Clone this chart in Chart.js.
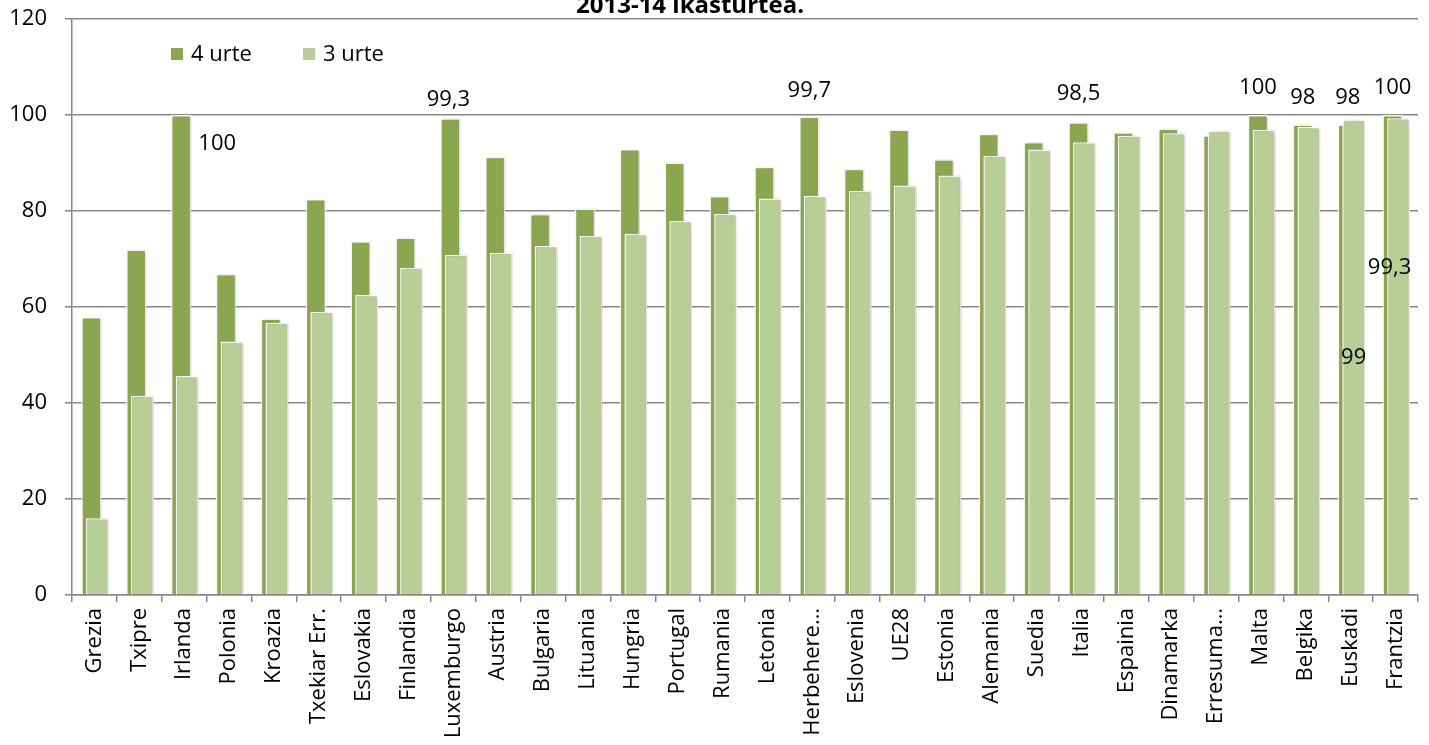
<!DOCTYPE html>
<html>
<head>
<meta charset="utf-8">
<script src="https://cdn.jsdelivr.net/npm/chart.js@4/dist/chart.umd.min.js"></script>
<style>
  html, body { margin: 0; padding: 0; background: #fff; }
  #wrap { width: 1429px; height: 745px; position: relative; }
</style>
</head>
<body>
<div id="wrap"><canvas id="schoolChart"></canvas></div>
<script>
// ---------------------------------------------
// Data — eskolatze-tasak, 2013-14 ikasturtea
// ---------------------------------------------
const TITLE = '2013-14 ikasturtea.';

const countries = [
  'Grezia', 'Txipre', 'Irlanda', 'Polonia', 'Kroazia', 'Txekiar Err.', 'Eslovakia',
  'Finlandia', 'Luxemburgo', 'Austria', 'Bulgaria', 'Lituania', 'Hungria', 'Portugal',
  'Rumania', 'Letonia', 'Herbehere…', 'Eslovenia', 'UE28', 'Estonia', 'Alemania',
  'Suedia', 'Italia', 'Espainia', 'Dinamarka', 'Erresuma…', 'Malta', 'Belgika',
  'Euskadi', 'Frantzia'
];

const age4 = [
  57.9, 72.0, 100, 66.9, 57.6, 82.5, 73.7, 74.5, 99.3, 91.3,
  79.4, 80.5, 92.9, 90.1, 83.1, 89.2, 99.7, 88.8, 97.0, 90.8,
  96.1, 94.4, 98.5, 96.4, 97.2, 95.8, 100, 98, 98, 100
];

const age3 = [
  16.0, 41.5, 45.6, 52.8, 56.7, 59.0, 62.5, 68.2, 70.9, 71.3,
  72.7, 74.8, 75.2, 77.9, 79.4, 82.6, 83.1, 84.2, 85.3, 87.4,
  91.5, 92.8, 94.3, 95.7, 96.2, 96.7, 96.9, 97.5, 99, 99.3
];

const yTicks = [0, 20, 40, 60, 80, 100, 120];

const seriesNames = ['4 urte', '3 urte'];
const COLORS = ['#8BA64F', '#B9CE96'];
const GRID = '#878787';
const FONT = "'Open Sans', 'Noto Sans', sans-serif";

// which bars carry a value label, and how far the label sits from the bar top (px)
const LABEL_NUDGE = [
  { 'Irlanda': [36, 29], 'Luxemburgo': [-2, -19], 'Herbehere…': [0, -26], 'Italia': [0, -28],
    'Malta': [0, -27], 'Belgika': [0, -27], 'Euskadi': [0, -27], 'Frantzia': [0, -27] },
  { 'Euskadi': [0, 238], 'Frantzia': [-9, 149] }
];

// ─────────────────────────────────────────
// PLUGINS
// ─────────────────────────────────────────

// soft shadow on bars, then the 3 urte bars redrawn on top of the 4 urte ones
const barLayers = {
  id: 'barLayers',
  beforeDatasetsDraw(chart) {
    const ctx = chart.ctx;
    ctx.save();
    ctx.shadowColor = 'rgba(0,0,0,0.22)';
    ctx.shadowBlur = 3;
    ctx.shadowOffsetX = 1;
    ctx.shadowOffsetY = 0;
  },
  afterDatasetsDraw(chart) {
    const ctx = chart.ctx;
    chart.getDatasetMeta(1).data.forEach(bar => bar.draw(ctx));
    ctx.restore();
  }
};

// value labels, title and in-plot legend
const decorations = {
  id: 'decorations',
  afterDraw(chart) {
    const ctx = chart.ctx;
    const area = chart.chartArea;
    ctx.save();

    // value labels
    ctx.font = `22px ${FONT}`;
    ctx.fillStyle = '#000';
    ctx.textAlign = 'center';
    ctx.textBaseline = 'middle';
    LABEL_NUDGE.forEach((nudges, di) => {
      const meta = chart.getDatasetMeta(di);
      const values = chart.data.datasets[di].data;
      Object.keys(nudges).forEach(name => {
        const i = countries.indexOf(name);
        const bar = meta.data[i];
        const [dx, dy] = nudges[name];
        ctx.fillText(String(values[i]).replace('.', ','), bar.x + dx, bar.y + dy);
      });
    });

    // title (cut at the top, as in the source)
    ctx.font = `bold 24px ${FONT}`;
    ctx.textBaseline = 'alphabetic';
    ctx.fillText(TITLE, 690, 13);

    // legend
    ctx.font = `22px ${FONT}`;
    ctx.textAlign = 'left';
    ctx.textBaseline = 'middle';
    const lx = [area.left + 99, area.left + 231];
    chart.data.datasets.forEach((ds, i) => {
      ctx.fillStyle = ds.backgroundColor;
      ctx.fillRect(lx[i], area.top + 29, 12, 12);
      ctx.fillStyle = '#000';
      ctx.fillText(ds.label, lx[i] + 20, area.top + 36);
    });

    ctx.restore();
  }
};

// ─────────────────────────────────────────
// CHART
// ─────────────────────────────────────────
Chart.defaults.font.family = FONT;
Chart.defaults.color = '#000';

new Chart(document.getElementById('schoolChart'), {
  type: 'bar',
  data: {
    labels: countries,
    datasets: [
      {
        label: seriesNames[0],
        data: age4,
        backgroundColor: COLORS[0],
        borderColor: '#fff',
        borderWidth: 1.5,
        categoryPercentage: 0.267,
        barPercentage: 3.4
      },
      {
        label: seriesNames[1],
        data: age3,
        backgroundColor: COLORS[1],
        borderColor: '#fff',
        borderWidth: 1.5,
        categoryPercentage: 0.267,
        barPercentage: 3.8
      }
    ]
  },
  options: {
    responsive: true,
    maintainAspectRatio: false,
    animation: false,
    layout: { padding: { top: 19, right: 11, left: 0, bottom: 0 } },
    plugins: {
      legend: { display: false },
      tooltip: { enabled: false }
    },
    scales: {
      x: {
        offset: true,
        grid: { offset: true, drawOnChartArea: false, drawTicks: true, tickLength: 7, color: GRID, lineWidth: 1.5 },
        border: { color: GRID, width: 1.5 },
        ticks: { autoSkip: false, minRotation: 90, maxRotation: 90, padding: 6, font: { size: 22 }, color: '#000' },
        afterFit: scale => {
          scale.height = 150;
          scale.paddingLeft = 0;
          scale.paddingRight = 0;
        }
      },
      y: {
        min: yTicks[0],
        max: yTicks[yTicks.length - 1],
        afterBuildTicks: scale => { scale.ticks = yTicks.map(v => ({ value: v })); },
        grid: { color: GRID, lineWidth: 1.5, tickLength: 7 },
        border: { color: GRID, width: 1.5 },
        ticks: { padding: 18, font: { size: 22 }, color: '#000' },
        afterFit: scale => {
          scale.width = 72;
          scale.paddingTop = 0;
          scale.paddingBottom = 0;
        }
      }
    }
  },
  plugins: [barLayers, decorations]
});
</script>
</body>
</html>
